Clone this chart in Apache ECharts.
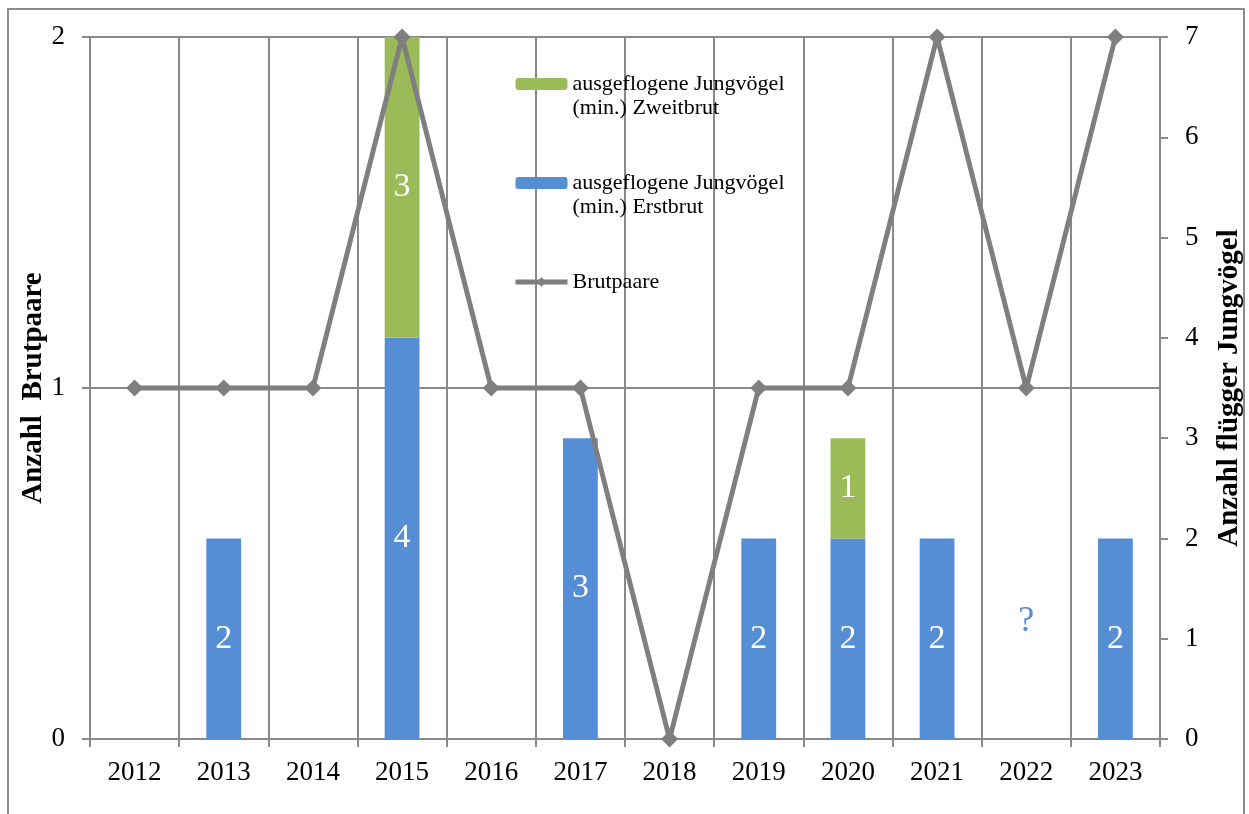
<!DOCTYPE html>
<html>
<head>
<meta charset="utf-8">
<script src="https://cdn.jsdelivr.net/npm/echarts@6/dist/echarts.min.js"></script>
<style>
html,body{margin:0;padding:0;background:#fff;}
#chart{width:1249px;height:814px;}
</style>
</head>
<body>
<div id="chart"></div>
<script>
const years = ['2012','2013','2014','2015','2016','2017','2018','2019','2020','2021','2022','2023'];
const brutpaare = [1,1,1,2,1,1,0,1,1,2,1,2];
const erstbrut = [null,2,null,4,null,3,null,2,2,2,null,2];
const zweitbrut = [null,null,null,3,null,null,null,null,1,null,null,null];
const unknownYears = ['2022'];
const unknownLabel = '?';
const leftTicks = [0,1,2];
const rightTicks = [0,1,2,3,4,5,6,7];

const nameZweit = 'ausgeflogene Jungvögel (min.) Zweitbrut';
const nameErst = 'ausgeflogene Jungvögel (min.) Erstbrut';
const nameBrut = 'Brutpaare';

const FONT = 'Liberation Serif';
const GRID = '#898989';

const chart = echarts.init(document.getElementById('chart'));
chart.setOption({
  animation: false,
  backgroundColor: '#fff',
  textStyle: {fontFamily: FONT},
  graphic: [{
    type: 'rect',
    shape: {x: 8, y: 9, width: 1236, height: 830},
    style: {fill: 'none', stroke: '#8c8c8c', lineWidth: 2},
    silent: true
  }],
  grid: {left: 90, right: 89, top: 37, bottom: 75, outerBoundsMode: 'none', containLabel: false},
  legend: {
    orient: 'vertical',
    left: 508,
    top: 43,
    itemWidth: 52,
    itemHeight: 12,
    itemGap: 27,
    data: [nameZweit, nameErst, nameBrut],
    lineStyle: {width: 5},
    formatter: function (n) {
      if (n === nameBrut) return '\n' + n + '\n';
      return '\n' + n.replace(' (min.)', '\n(min.)');
    },
    textStyle: {fontFamily: FONT, fontSize: 22, lineHeight: 24, color: '#000'}
  },
  xAxis: {
    type: 'category',
    data: years,
    boundaryGap: true,
    axisLine: {show: true, lineStyle: {color: GRID, width: 2}},
    axisTick: {show: true, length: 8, lineStyle: {color: GRID, width: 2}},
    splitLine: {show: true, lineStyle: {color: GRID, width: 2}},
    axisLabel: {color: '#000', fontFamily: FONT, fontSize: 27, margin: 20}
  },
  yAxis: [{
    type: 'value',
    min: 0, max: 2, interval: 1,
    name: 'Anzahl  Brutpaare',
    nameLocation: 'middle',
    nameRotate: 90,
    nameGap: 42,
    nameMoveOverlap: false,
    nameTextStyle: {fontFamily: FONT, fontSize: 29, fontWeight: 'bold', color: '#000'},
    axisLine: {show: true, lineStyle: {color: GRID, width: 2}},
    axisTick: {show: true, length: 8, lineStyle: {color: GRID, width: 2}},
    splitLine: {show: true, lineStyle: {color: GRID, width: 2}},
    axisLabel: {color: '#000', fontFamily: FONT, fontSize: 27, margin: 25,
      formatter: v => leftTicks.includes(v) ? String(v) : ''}
  }, {
    type: 'value',
    min: 0, max: 7, interval: 1,
    position: 'right',
    name: 'Anzahl flügger Jungvögel',
    nameLocation: 'middle',
    nameRotate: 90,
    nameGap: 55,
    nameTextStyle: {fontFamily: FONT, fontSize: 29, fontWeight: 'bold', color: '#000'},
    axisLine: {show: true, lineStyle: {color: GRID, width: 2}},
    axisTick: {show: true, length: 8, lineStyle: {color: GRID, width: 2}},
    splitLine: {show: false},
    axisLabel: {color: '#000', fontFamily: FONT, fontSize: 27, margin: 25,
      formatter: v => rightTicks.includes(v) ? String(v) : ''}
  }],
  series: [{
    name: nameErst,
    type: 'bar',
    stack: 'jung',
    yAxisIndex: 1,
    barWidth: '39%',
    data: erstbrut,
    itemStyle: {color: '#558ed5'},
    label: {show: true, position: 'inside', color: '#fff', fontFamily: FONT, fontSize: 34},
    markPoint: {
      symbol: 'circle',
      symbolSize: 1,
      itemStyle: {color: 'rgba(0,0,0,0)'},
      label: {show: true, position: 'inside', formatter: unknownLabel, color: '#558ed5', fontFamily: FONT, fontSize: 36},
      data: unknownYears.map(y => ({coord: [y, 1.17], value: unknownLabel}))
    },
    z: 2
  }, {
    name: nameZweit,
    type: 'bar',
    stack: 'jung',
    yAxisIndex: 1,
    barWidth: '39%',
    data: zweitbrut,
    itemStyle: {color: '#9bbb59'},
    label: {show: true, position: 'inside', color: '#fff', fontFamily: FONT, fontSize: 34},
    z: 2
  }, {
    name: nameBrut,
    type: 'line',
    yAxisIndex: 0,
    data: brutpaare,
    symbol: 'diamond',
    symbolSize: 17,
    lineStyle: {color: '#7f7f7f', width: 5},
    itemStyle: {color: '#7f7f7f'},
    z: 5
  }]
});
</script>
</body>
</html>
